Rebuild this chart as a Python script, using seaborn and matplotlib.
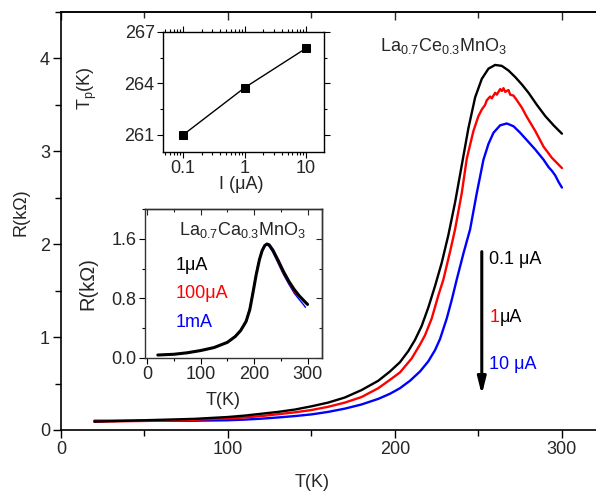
import numpy as np
import pandas as pd
import matplotlib
matplotlib.use('Agg')
import matplotlib.pyplot as plt
import seaborn as sns
from matplotlib.ticker import MultipleLocator, NullFormatter, LogLocator

# ---------------- data: La0.7Ce0.3MnO3, main panel ----------------
T_01uA = [20, 40, 60, 80, 100, 110, 120, 130, 140, 150, 160, 170, 180, 190, 197, 203, 208, 212, 216,
          220, 224, 228, 232, 236, 240, 244, 248, 252, 256, 260, 264, 268, 272, 276, 280, 285, 290,
          295, 300]
R_01uA = [0.09, 0.10, 0.11, 0.12, 0.14, 0.155, 0.175, 0.195, 0.22, 0.255, 0.295, 0.35, 0.43, 0.53,
          0.63, 0.73, 0.85, 0.97, 1.12, 1.32, 1.55, 1.80, 2.10, 2.45, 2.85, 3.25, 3.58, 3.78, 3.89,
          3.93, 3.92, 3.87, 3.80, 3.72, 3.63, 3.50, 3.38, 3.28, 3.19]

T_1uA = [20, 40, 60, 80, 100, 110, 120, 130, 140, 150, 160, 170, 180, 190, 197, 203, 210, 215, 218,
         222, 226, 229, 233, 236, 240, 243, 247, 250, 252, 254, 255, 257, 258, 260, 261, 263, 264,
         265, 266, 268, 269, 271, 273, 276, 279, 284, 289, 294, 300]
R_1uA = [0.09, 0.095, 0.10, 0.11, 0.125, 0.135, 0.15, 0.17, 0.19, 0.215, 0.25, 0.295, 0.355, 0.45,
         0.54, 0.62, 0.77, 0.92, 1.02, 1.20, 1.45, 1.62, 1.92, 2.16, 2.55, 2.92, 3.22, 3.38, 3.45,
         3.50, 3.55, 3.59, 3.57, 3.63, 3.61, 3.67, 3.65, 3.68, 3.64, 3.66, 3.61, 3.60, 3.55, 3.47,
         3.37, 3.22, 3.05, 2.93, 2.82]

T_10uA = [20, 40, 60, 80, 100, 110, 120, 130, 140, 150, 160, 170, 180, 190, 197, 203, 209, 215, 220,
          224, 227, 231, 234, 237, 241, 245, 249, 253, 256, 259, 263, 267, 271, 275, 279, 284, 289,
          292, 294, 296, 298, 300]
R_10uA = [0.10, 0.10, 0.10, 0.10, 0.105, 0.112, 0.122, 0.135, 0.15, 0.168, 0.195, 0.23, 0.275, 0.335,
          0.39, 0.45, 0.53, 0.63, 0.74, 0.86, 0.98, 1.20, 1.40, 1.62, 1.90, 2.16, 2.55, 2.91, 3.08,
          3.20, 3.28, 3.30, 3.27, 3.20, 3.12, 3.02, 2.91, 2.83, 2.79, 2.74, 2.67, 2.61]

# ---------------- data: Tp vs I inset ----------------
I_uA = [0.1, 1, 10]
Tp_K = [261.0, 263.75, 266.05]

# ---------------- data: La0.7Ca0.3MnO3 inset ----------------
T_ca = [20, 50, 75, 100, 125, 150, 165, 175, 185, 192, 198, 204, 210, 215, 220, 224, 228, 235, 245,
        255, 265, 275, 285, 293, 300]
R_ca_1uA = [0.04, 0.05, 0.07, 0.10, 0.14, 0.21, 0.29, 0.37, 0.49, 0.65, 0.88, 1.12, 1.32, 1.44, 1.51,
            1.53, 1.52, 1.45, 1.31, 1.16, 1.03, 0.92, 0.83, 0.77, 0.72]
R_ca_100uA = [0.04, 0.05, 0.07, 0.10, 0.14, 0.21, 0.29, 0.37, 0.49, 0.66, 0.89, 1.13, 1.33, 1.45, 1.51,
              1.53, 1.51, 1.44, 1.29, 1.14, 1.01, 0.89, 0.82, 0.76, 0.71]
T_ca_1mA = T_ca[:-1] + [296]
R_ca_1mA = [0.04, 0.05, 0.07, 0.10, 0.14, 0.21, 0.29, 0.37, 0.50, 0.67, 0.90, 1.14, 1.33, 1.45, 1.51,
            1.52, 1.50, 1.42, 1.27, 1.12, 0.99, 0.87, 0.78, 0.71, 0.68]

main_labels = ['0.1 μA', '1 μA', '10 μA']
ca_labels = ['1μA', '100μA', '1mA']

# ---------------- style ----------------
sns.set_style('ticks')
plt.rcParams['font.family'] = ['Liberation Sans', 'DejaVu Sans']
plt.rcParams['mathtext.fontset'] = 'custom'
plt.rcParams['mathtext.rm'] = 'Liberation Sans'
plt.rcParams['mathtext.it'] = 'Liberation Sans:italic'
plt.rcParams['mathtext.bf'] = 'Liberation Sans:bold'
FS = 13

W, H = 596, 497
fig = plt.figure(figsize=(W / 100, H / 100), dpi=100)

def frac(l, t, r, b):
    return [l / W, (H - b) / H, (r - l) / W, (b - t) / H]

# ---------------- main axes ----------------
ax = fig.add_axes(frac(61, 12, 596, 430))
df_main = pd.concat([
    pd.DataFrame({'T': T_10uA, 'R': R_10uA, 'I': main_labels[2]}),
    pd.DataFrame({'T': T_1uA, 'R': R_1uA, 'I': main_labels[1]}),
    pd.DataFrame({'T': T_01uA, 'R': R_01uA, 'I': main_labels[0]}),
])
sns.lineplot(data=df_main, x='T', y='R', hue='I', sort=False, estimator=None,
             palette={main_labels[0]: 'black', main_labels[1]: '#ff0000', main_labels[2]: '#0000ff'},
             linewidth=1.7, legend=False, ax=ax)
ax.set_xlim(0, 320.4)
ax.set_ylim(0, 4.5)
ax.xaxis.set_major_locator(MultipleLocator(100))
ax.xaxis.set_minor_locator(MultipleLocator(50))
ax.yaxis.set_major_locator(MultipleLocator(1))
ax.yaxis.set_minor_locator(MultipleLocator(0.5))
ax.tick_params(which='both', direction='out', labelsize=FS, width=1, color='black', pad=2)
ax.tick_params(which='major', length=6)
ax.tick_params(which='minor', length=4)
ax.spines['right'].set_visible(False)
for s in ax.spines.values():
    s.set_linewidth(1.2)
    s.set_color('black')
ax.set_xlabel('T(K)', fontsize=FS)
ax.set_ylabel('R(kΩ)', fontsize=FS)
ax.xaxis.set_label_coords(0.469, -0.105)
ax.yaxis.set_label_coords(-0.058, 0.52)

top = ax.secondary_xaxis('top')
top.xaxis.set_major_locator(MultipleLocator(100))
top.xaxis.set_minor_locator(MultipleLocator(50))
top.tick_params(axis='x', which='both', direction='in', labeltop=False, width=1)
top.tick_params(axis='x', which='major', length=6)
top.tick_params(axis='x', which='minor', length=4)
top.spines['top'].set_linewidth(1.2)

ax.text(191, 4.08, r'La$_{0.7}$Ce$_{0.3}$MnO$_3$', fontsize=FS, ha='left', va='baseline')

# arrow and current labels
ax.annotate('', xy=(252, 0.38), xytext=(252, 1.92),
            arrowprops=dict(arrowstyle='-|>,head_length=1.0,head_width=0.25', lw=2.2,
                            color='black', mutation_scale=10, shrinkA=0, shrinkB=0))
ax.text(256.3, 1.84, '0.1 μA', fontsize=FS, ha='left', va='center', color='black')
t1 = ax.text(256.6, 1.21, '1', fontsize=FS, ha='left', va='center', color='#ff0000')
ax.annotate('μA', xy=(1, 0.5), xycoords=t1, fontsize=FS, ha='left', va='center', color='black')
ax.text(256.6, 0.70, '10 μA', fontsize=FS, ha='left', va='center', color='#0000ff')

# ---------------- inset 1: Tp vs I ----------------
ax1 = fig.add_axes(frac(163, 32, 324, 152))
df_tp = pd.DataFrame({'I': I_uA, 'Tp': Tp_K})
sns.lineplot(data=df_tp, x='I', y='Tp', color='black', linewidth=1.0, marker='s',
             markersize=6, markeredgecolor='black', ax=ax1)
ax1.set_xscale('log')
ax1.set_xlim(0.047, 19.6)
ax1.set_ylim(260, 267)
ax1.set_xticks([0.1, 1, 10], labels=['0.1', '1', '10'])
ax1.xaxis.set_minor_locator(LogLocator(base=10, subs=np.arange(2, 10)))
ax1.xaxis.set_minor_formatter(NullFormatter())
ax1.set_yticks([261, 264, 267])
ax1.yaxis.set_minor_locator(MultipleLocator(1.5))
ax1.tick_params(which='both', direction='out', top=True, right=True, labelsize=FS, pad=2,
                width=0.8, color='black')
ax1.tick_params(which='major', length=4)
ax1.tick_params(which='minor', length=2.5)
for s in ax1.spines.values():
    s.set_linewidth(1.0)
    s.set_color('black')
ax1.set_xlabel('I (μA)', fontsize=FS)
ax1.set_ylabel(r'T$_{\rm p}$(K)', fontsize=FS)
ax1.xaxis.set_label_coords(0.484, -0.2)
ax1.yaxis.set_label_coords(-0.40, 0.53)

# ---------------- inset 2: La0.7Ca0.3MnO3 ----------------
ax2 = fig.add_axes(frac(145, 209, 322, 358))
df_ca = pd.concat([
    pd.DataFrame({'T': T_ca_1mA, 'R': R_ca_1mA, 'I': ca_labels[2]}),
    pd.DataFrame({'T': T_ca, 'R': R_ca_100uA, 'I': ca_labels[1]}),
    pd.DataFrame({'T': T_ca, 'R': R_ca_1uA, 'I': ca_labels[0]}),
])
sns.lineplot(data=df_ca, x='T', y='R', hue='I', size='I', sort=False, estimator=None,
             palette={ca_labels[0]: 'black', ca_labels[1]: '#ff0000', ca_labels[2]: '#0000ff'},
             sizes={ca_labels[0]: 2.2, ca_labels[1]: 1.1, ca_labels[2]: 1.0},
             legend=False, ax=ax2)
ax2.set_xlim(-4, 327)
ax2.set_ylim(0, 2.0)
ax2.set_xticks([0, 100, 200, 300])
ax2.xaxis.set_minor_locator(MultipleLocator(50))
ax2.set_yticks([0, 0.8, 1.6], labels=['0.0', '0.8', '1.6'])
ax2.yaxis.set_minor_locator(MultipleLocator(0.4))
ax2.tick_params(which='both', direction='out', labelsize=FS, pad=2, width=0.8, color='black')
ax2.tick_params(which='major', length=4)
ax2.tick_params(which='minor', length=2.5)
for s in ax2.spines.values():
    s.set_linewidth(1.0)
    s.set_color('#333333')
ax2.set_xlabel('T(K)', fontsize=FS)
ax2.set_ylabel('R(kΩ)', fontsize=14.5)
ax2.xaxis.set_label_coords(0.44, -0.225)
ax2.yaxis.set_label_coords(-0.27, 0.5)

top2 = ax2.secondary_xaxis('top')
top2.xaxis.set_major_locator(MultipleLocator(100))
top2.xaxis.set_minor_locator(MultipleLocator(50))
top2.tick_params(axis='x', which='both', direction='in', labeltop=False, width=0.8)
top2.tick_params(axis='x', which='major', length=4)
top2.tick_params(axis='x', which='minor', length=2.5)
right2 = ax2.secondary_yaxis('right')
right2.yaxis.set_major_locator(MultipleLocator(0.8))
right2.yaxis.set_minor_locator(MultipleLocator(0.4))
right2.tick_params(axis='y', which='both', direction='in', labelright=False, width=0.8)
right2.tick_params(axis='y', which='major', length=4)
right2.tick_params(axis='y', which='minor', length=2.5)
for sa in (top2, right2):
    for s in sa.spines.values():
        s.set_linewidth(1.0)
        s.set_color('#333333')

ax2.text(60, 1.65, r'La$_{0.7}$Ca$_{0.3}$MnO$_3$', fontsize=FS, ha='left', va='baseline')
ax2.text(54, 1.24, ca_labels[0], fontsize=FS, ha='left', va='center', color='black')
ax2.text(54, 0.86, ca_labels[1], fontsize=FS, ha='left', va='center', color='#ff0000')
ax2.text(54, 0.48, ca_labels[2], fontsize=FS, ha='left', va='center', color='#0000ff')

fig.savefig('out.png', dpi=100)
